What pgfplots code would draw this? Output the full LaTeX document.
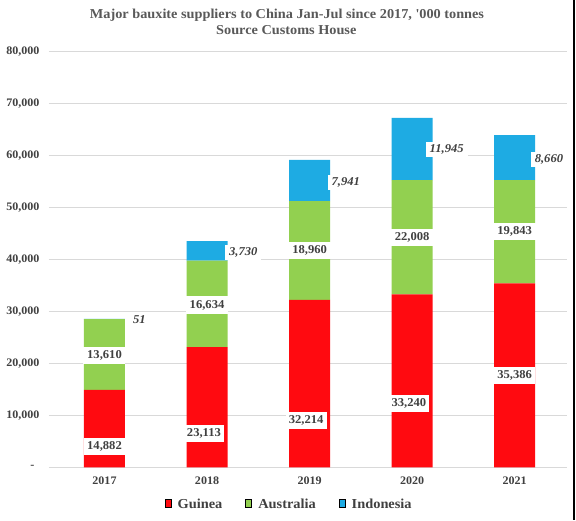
\documentclass[border=0pt]{standalone}
\usepackage{fontspec}
\setmainfont{Liberation Serif}[FakeStretch=1.05]
\usepackage{pgfplots}
\pgfplotsset{compat=1.18}
\definecolor{cRed}{HTML}{FF0A10}
\definecolor{cGreen}{HTML}{92D050}
\definecolor{cBlue}{HTML}{1EABE3}
\definecolor{cText}{HTML}{404040}
\definecolor{cTitle}{HTML}{595959}
\definecolor{cGrid}{HTML}{D9D9D9}
\tikzset{
  lab/.style={fill=white, text=cText, font=\bfseries\fontsize{12}{12}\selectfont, inner xsep=3pt, inner ysep=0pt, minimum height=17pt},
  ilab/.style={lab, font=\bfseries\itshape\fontsize{12}{12}\selectfont, inner xsep=4pt, minimum height=15pt},
}
\begin{document}
\begin{tikzpicture}[x=1pt,y=1pt]
\fill[white] (0,0) rectangle (576,520);
\path[use as bounding box] (0,0) rectangle (576,520);
\fill[black] (572.7,0) rectangle (575.3,520);
\node[anchor=base, text=cTitle, font=\bfseries\fontsize{13.6}{14}\selectfont] at (287,501.7) {Major bauxite suppliers to China Jan-Jul since 2017, \textquotesingle 000 tonnes};
\node[anchor=base, text=cTitle, font=\bfseries\fontsize{13.6}{14}\selectfont] at (286.3,485.7) {Source Customs House};
\begin{axis}[
  at={(49pt,52.7pt)}, anchor=south west,
  scale only axis, width=518pt, height=416pt,
  ybar stacked, bar width=41pt,
  xmin=-0.541, xmax=4.51, ymin=0, ymax=80000,
  xtick={0,1,2,3,4}, xticklabels={2017,2018,2019,2020,2021},
  ytick={0,10000,20000,30000,40000,50000,60000,70000,80000},
  yticklabels={{-\hspace*{5pt}},{10,000},{20,000},{30,000},{40,000},{50,000},{60,000},{70,000},{80,000}},
  scaled y ticks=false,
  /pgf/number format/assume math mode=true,
  ymajorgrids, grid style={cGrid, line width=0.8pt},
  axis line style={draw=none}, major tick length=0pt,
  tick label style={font=\bfseries\fontsize{11.5}{12}\selectfont, text=cText},
  yticklabel style={xshift=-6pt},
  xticklabel style={yshift=-6pt},
  clip=false,
  ybar legend/.style={legend image code/.code={\fill[##1] (0pt,-3pt) rectangle (6pt,3pt);}},
  legend style={at={(0.4637,-0.0906)}, anchor=center, draw=none, fill=none,
    legend columns=3, font=\bfseries\fontsize{13.7}{14}\selectfont, text=cText,
    /tikz/every odd column/.append style={column sep=4.5pt},
    /tikz/every even column/.append style={column sep=21pt}},
]
\addplot[fill=cRed, draw=none] coordinates {(0,14882) (1,23113) (2,32214) (3,33240) (4,35386)};
\addplot[fill=cGreen, draw=none] coordinates {(0,13610) (1,16634) (2,18960) (3,22008) (4,19843)};
\addplot[fill=cBlue, draw=none] coordinates {(0,51) (1,3730) (2,7941) (3,11945) (4,8660)};
\legend{Guinea, Australia, Indonesia}
\coordinate (g0) at (axis cs:0,3960);
\coordinate (g1) at (axis cs:0.970,6538);
\coordinate (g2) at (axis cs:1.967,8962);
\coordinate (g3) at (axis cs:2.968,12308);
\coordinate (g4) at (axis cs:4,17615);
\coordinate (a0) at (axis cs:0,21596);
\coordinate (a1) at (axis cs:1,31212);
\coordinate (a2) at (axis cs:2,41788);
\coordinate (a3) at (axis cs:3,44154);
\coordinate (a4) at (axis cs:4,45308);
\coordinate (i0) at (axis cs:0.341,28327);
\coordinate (i1) at (axis cs:1.353,41270);
\coordinate (i2) at (axis cs:2.353,54808);
\coordinate (i3) at (axis cs:3.337,61212);
\coordinate (i4) at (axis cs:4.334,59231);
\end{axis}
% Guinea labels
\node[lab, minimum width=39pt] at (g0) {14,882};
\node[lab, minimum width=36.6pt] at (g1) {23,113};
\node[lab, minimum width=34.3pt] at (g2) {32,214};
\node[lab, minimum width=35.7pt] at (g3) {33,240};
\node[lab, minimum width=41pt] at (g4) {35,386};
% Australia labels
\node[lab, minimum width=42pt] at (a0) {13,610};
\node[lab, minimum width=42pt] at (a1) {16,634};
\node[lab, minimum width=42pt] at (a2) {18,960};
\node[lab, minimum width=42pt] at (a3) {22,008};
\node[lab, minimum width=42pt] at (a4) {19,843};
% Indonesia labels
\node[ilab] at (i0) {51};
\node[ilab] at (i1) {3,730};
\node[ilab] at (i2) {7,941};
\node[ilab] at (i3) {11,945};
\node[ilab] at (i4) {8,660};
\end{tikzpicture}
\end{document}
